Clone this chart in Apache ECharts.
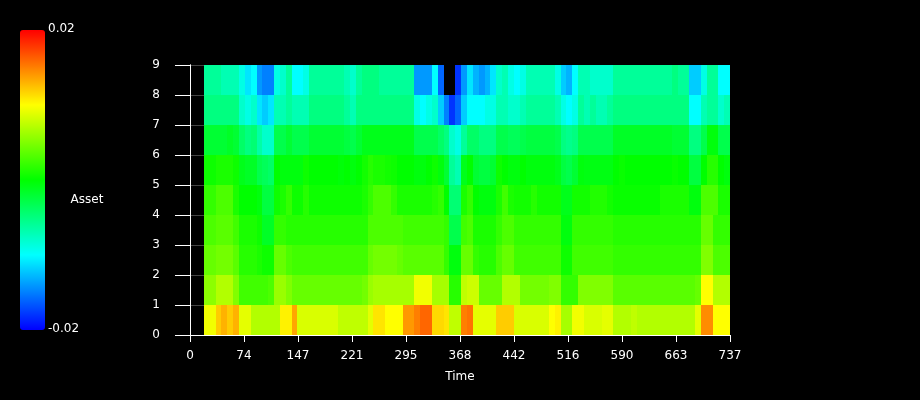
<!DOCTYPE html>
<html><head><meta charset="utf-8">
<style>html,body{margin:0;padding:0;background:#000}#c{width:920px;height:400px}</style>
<script src="https://cdn.jsdelivr.net/npm/echarts@6/dist/echarts.min.js"></script>
</head><body><div id="c"></div>
<script>
const xTickLabels = ['0','74','147','221','295','368','442','516','590','663','737'];
const xMax = 737;
const colStart = 19, colStep = 7.98;
// values in units of 0.001, row 0 to row 8, one entry per time column
const row0 = [9.5,9.5,12,13,12,13,9,9,7,7,7,7,7,10.5,10.5,13.5,8.5,8.5,8.5,8.5,8.5,8.5,8.5,7.5,7.5,7.5,7.5,7.5,9,11,11,10,10,10,14,14,15,16,16,11.5,11.5,11,7.5,7.5,15,15.5,9,9,9,9,12,12,12,8.5,8.5,8.5,8.5,8.5,8.5,10,10.5,6.5,6.5,9.5,9.5,8.5,8.5,8.5,9,9,7,7,7,7.5,7,7,7,7,7,7,7,7,7,7,9,14.5,14.5,10,10,10];
const row1 = [5.5,5.5,7,7,7,5,2.5,2.5,2.5,2.5,2.5,3,6,6,5,4,4,4,4,4,4,4,4,4,4,4,4,4.5,6,6.5,6.5,6.5,6.5,6.5,6.5,6.5,9.5,9.5,9.5,6.5,6.5,6.5,1.5,1.5,7.5,8,8,4,4,4,4,7,7,7,4.5,4.5,4.5,4.5,4.5,5,5,2,2,2,5,5,5,5,5,5,3.5,3.5,3.5,3.5,3.5,3.5,3.5,3.5,3.5,3.5,3.5,3.5,3.5,3.5,4,10,10,7,7,7];
const row2 = [4,4,4.5,4.5,4.5,3.5,1.5,1.5,1.5,1,0.5,0.5,4,4,3,2.5,2.5,2.5,2.5,2.5,2.5,2.5,2.5,2.5,2.5,2.5,2.5,2.5,4,4.5,4.5,4.5,4.5,4,3.5,3.5,3.5,3.5,3.5,3.5,3.5,2,-0.5,-0.5,4,4,2,1.5,1.5,1.5,3,4,4,2.5,2.5,2.5,2.5,2.5,2.5,2.5,2.5,0.5,0.5,2.5,2.5,2.5,2.5,2.5,2.5,2.5,2,2,2,2,2,2,2,2,2,2,2,2,2,2,2,5,5,3,3,3];
const row3 = [3,3,3.5,3.5,3.5,2.5,1,1,1,0.5,-1.5,-1.5,2,2,1.5,1.5,1.5,1.5,1.5,1.5,1.5,1.5,1.5,1.5,1.5,1.5,1.5,1.5,3,3,3,3,3,3,2.5,2.5,2.5,2.5,2.5,2.5,2.5,2,-3,-3,2.5,3,1,1,1,1,2,3,3,2,2,2,2,2,2,2,2,-0.5,-0.5,2,2,2,2,2,2,2,1.5,1.5,1.5,1.5,1.5,1.5,1.5,1.5,1.5,1.5,1.5,1.5,1.5,1.5,1.5,4,4,2,2,2];
const row4 = [2,2,3,3,3,1,0,0,0,-0.5,-2.5,-2.5,0.5,1,2,0.5,0.5,1.5,0.5,0.5,0.5,0.5,0.5,0.5,0.5,0.5,0.5,1,2,3,3,3,2,1,1,1,1,1,1,1.5,2,0,-4.5,-4.5,1,2,0,-0.5,-0.5,-0.5,1,2.5,1,0.7,0.7,0.7,1.5,0.7,0.7,0.7,0.7,-1,-1,0.7,0.7,0.7,1.3,1.3,1.3,0.7,0.3,0.3,0.3,0.3,0.3,0.3,0.3,0.3,1,1,1,1,1,-0.5,-0.5,3,3,3,1,1];
const row5 = [0.5,0.5,1,1,1,0.5,-1,-1.5,-1.5,-3,-3.5,-4,0,-0.5,-0.5,-0.5,-0.5,0.5,0,0,0,0,0,-0.3,0,-0.5,0,0.7,1.5,1,1,0.7,0.5,0,0,0,-0.5,-0.5,0,0.5,-0.5,-2,-6,-7,-1,0,-2,-2.5,-2.5,-2,0.5,0,-0.5,-0.5,0,-0.5,-0.5,-0.5,-0.5,-0.5,-1,-2.5,-3,-2,-0.5,-0.7,-0.7,-0.7,-0.7,-0.7,0,0.3,0,0,0,0,0,0,0,0,0.3,0,0,-2.5,-2.5,0,1.5,1.5,0,-0.5];
const row6 = [-2,-2,-2,-2,-1.5,-2,-4,-5,-4.5,-6.5,-8,-8,-3,-3,-2,-3,-3,-3,-2,-2,-2,-2,-2,-2,-2.5,-3,-2,-1,-1,-1,-1,-1,-1,-1,-1,-1,-3,-3,-3,-3,-4,-5,-8,-9,-6,-4,-4,-5,-5,-5,-3,-3,-3.5,-3.5,-3,-2.5,-2.5,-2.5,-2.5,-2.5,-3,-5,-5.5,-5,-3,-3,-3,-3,-3,-3,-1.5,-1.5,-1.5,-1.5,-1.5,-1.5,-1.5,-1.5,-1.5,-1.5,-2,-2,-2,-5,-5,-3,-0.5,-0.5,-3,-3];
const row7 = [-5,-5,-5,-5,-5,-5,-8,-9,-8,-11,-12,-11,-7,-7,-6,-7,-7,-7,-5,-5,-5,-5,-5,-5,-6,-7,-5,-5,-5,-5,-5,-5,-5,-5,-5,-5,-9,-10,-9,-8,-12,-15,-18,-16,-12,-10,-10,-10,-9,-9,-7,-7,-8,-8,-7,-6,-6,-6,-6,-6,-7,-9,-10,-9,-6,-7,-6,-7,-7,-6,-5,-5,-5,-5,-5,-5,-5,-5,-5,-5,-5,-5,-5,-10,-10,-7,-6,-6,-8,-7];
const row8 = [-6,-6,-6,-7,-7,-7,-9,-11,-10,-14,-15,-15,-9,-8,-6,-10,-10,-9,-6,-6,-6,-6,-6,-6,-7,-8,-6,-5,-5,-5,-6,-6,-6,-6,-6,-6,-14,-14,-14,-10,-16,-23,-23,-18,-14,-11,-13,-14,-13,-11,-8,-7,-9,-10,-9,-7,-7,-7,-7,-7,-9,-12,-13,-10,-7,-7,-8,-8,-8,-8,-6,-6,-6,-6,-6,-6,-6,-6,-6,-6,-5,-6,-6,-12,-12,-9,-6,-6,-10,-10];
const rows = [row0,row1,row2,row3,row4,row5,row6,row7,row8];

const cells = [];
rows.forEach((vals, r) => vals.forEach((v, i) => {
  const t0 = colStart + i * colStep;
  cells.push([t0, r, Math.min(t0 + colStep, xMax), r + 1, v / 1000]);
}));
const font = 'DejaVu Sans';
const chart = echarts.init(document.getElementById('c'), null, {renderer:'canvas'});
const txt = (x, y, text, align) => ({type:'text', x, y, style:{text, fill:'#fff', font:'12px "'+font+'"', textAlign:align||'left', textVerticalAlign:'middle'}});
chart.setOption({
  backgroundColor:'#000',
  animation:false,
  grid:{left:190, top:65, width:540, height:270, containLabel:false},
  xAxis:[{type:'value', min:0, max:xMax, interval:73.7, z:5,
    name:'Time', nameLocation:'middle', nameGap:36,
    nameTextStyle:{color:'#fff', fontFamily:font, fontSize:12},
    axisLine:{lineStyle:{color:'#fff'}}, axisTick:{length:7, lineStyle:{color:'#fff'}},
    axisLabel:{color:'#fff', fontFamily:font, fontSize:12, margin:15, showMinLabel:true, showMaxLabel:true,
      formatter:v => xTickLabels[Math.round(v / 73.7)]},
    splitLine:{show:false}},
    {type:'value', position:'top', min:0, max:xMax, z:5, axisLine:{show:true, lineStyle:{color:'#fff'}}, axisTick:{show:false}, axisLabel:{show:false}, splitLine:{show:false}}],
  yAxis:[{type:'value', min:0, max:9, interval:1, z:5,
    axisLine:{show:true, lineStyle:{color:'#fff'}}, axisTick:{show:true, length:15, lineStyle:{color:'#fff'}},
    axisLabel:{color:'#fff', fontFamily:font, fontSize:12, margin:30},
    splitLine:{show:false}},
    {type:'value', position:'right', min:0, max:9, z:5, axisLine:{show:true, lineStyle:{color:'#fff'}}, axisTick:{show:false}, axisLabel:{show:false}, splitLine:{show:false}},
    {type:'value', position:'left', offset:0, min:0, max:9, interval:1, z:0, axisLine:{show:false}, axisTick:{show:false}, axisLabel:{show:false}, splitLine:{show:true, lineStyle:{color:'#444', width:1}}}],
  visualMap:{type:'continuous', min:-0.02, max:0.02, range:[-0.01999,0.02], dimension:4, seriesIndex:0, calculable:false, realtime:false, hoverLink:false,
    left:20, top:30, itemWidth:25, itemHeight:300, showLabel:false, borderRadius:0, padding:0,
    inRange:{color:['#0000ff','#00ffff','#00ff00','#ffff00','#ff0000']}, outOfRange:{color:'#000'}},
  graphic:[txt(48,29,'0.02'), txt(48,329,'-0.02'), txt(87,200,'Asset','center')],
  series:[{type:'custom', xAxisIndex:0, yAxisIndex:0, data:cells, z:2, silent:true, clip:true,
    encode:{x:[0,2], y:[1,3]},
    renderItem:(params, api) => {
      const a = api.coord([api.value(0), api.value(3)]);
      const b = api.coord([api.value(2), api.value(1)]);
      const x0 = Math.round(a[0]), y0 = Math.round(a[1]);
      return {type:'rect', shape:{x:x0, y:y0, width:Math.round(b[0])-x0, height:Math.round(b[1])-y0},
        style:{fill:api.visual('color')}};
    }}]
});
</script></body></html>
